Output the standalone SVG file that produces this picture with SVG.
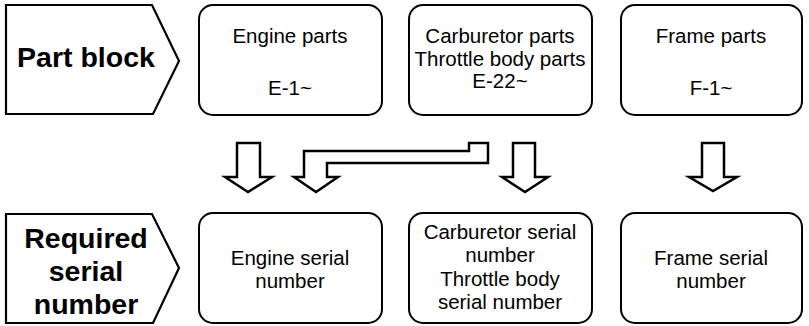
<svg xmlns="http://www.w3.org/2000/svg" width="809" height="326" viewBox="0 0 809 326">
<style>
.box{fill:#fff;stroke:#000;stroke-width:2}
.tag{fill:#fff;stroke:#000;stroke-width:2.2;stroke-linejoin:miter}
.arr{fill:#fff;stroke:#000;stroke-width:2.5;stroke-linejoin:miter}
text{font-family:"Liberation Sans",Arial,sans-serif;fill:#000;text-anchor:middle}
.b{font-weight:bold;font-size:28.5px}
.n{font-size:20.5px}
</style>
<rect width="809" height="326" fill="#fff"/>
<g id="tag-part-block">
<polygon class="tag" points="6,5 152,5 179,61 153,114 6,114"/>
<text class="b" x="86" y="67">Part block</text>
</g>
<g id="engine-parts">
<rect class="box" x="199" y="5" width="183" height="110" rx="14"/>
<text class="n" x="290" y="43">Engine parts</text>
<text class="n" x="290" y="95">E-1~</text>
</g>
<g id="carburetor-parts">
<rect class="box" x="409" y="5" width="183" height="110" rx="14"/>
<text class="n" x="500" y="43">Carburetor parts</text>
<text class="n" x="500" y="65.5">Throttle body parts</text>
<text class="n" x="500" y="88">E-22~</text>
</g>
<g id="frame-parts">
<rect class="box" x="621" y="5" width="181" height="110" rx="14"/>
<text class="n" x="711" y="43">Frame parts</text>
<text class="n" x="711" y="95">F-1~</text>
</g>
<g id="tag-required">
<polygon class="tag" points="6,214 152,214 179,268 153,323 6,323"/>
<text class="b" x="86" y="248">Required</text>
<text class="b" x="86" y="281">serial</text>
<text class="b" x="86" y="314">number</text>
</g>
<g id="engine-serial">
<rect class="box" x="199" y="213" width="183" height="110" rx="14"/>
<text class="n" x="290" y="265">Engine serial</text>
<text class="n" x="290" y="288">number</text>
</g>
<g id="carburetor-serial">
<rect class="box" x="409" y="213" width="183" height="110" rx="14"/>
<text class="n" x="500" y="239">Carburetor serial</text>
<text class="n" x="500" y="262">number</text>
<text class="n" x="500" y="285.5">Throttle body</text>
<text class="n" x="500" y="309">serial number</text>
</g>
<g id="frame-serial">
<rect class="box" x="621" y="213" width="181" height="110" rx="14"/>
<text class="n" x="711" y="265">Frame serial</text>
<text class="n" x="711" y="288">number</text>
</g>
<g id="connectors">
<polygon class="arr" points="237,143 260,143 260,177 272,177 248,192 225,177 237,177"/>
<polygon class="arr" points="304,151 469,151 469,143 488,143 488,163 327,163 327,177 338,177 316,192 294,177 304,177"/>
<polygon class="arr" points="513,143 535,143 535,177 548,177 525,192 502,177 513,177"/>
<polygon class="arr" points="702,143 724,143 724,177 737,177 713,191 689,177 702,177"/>
</g>
</svg>
